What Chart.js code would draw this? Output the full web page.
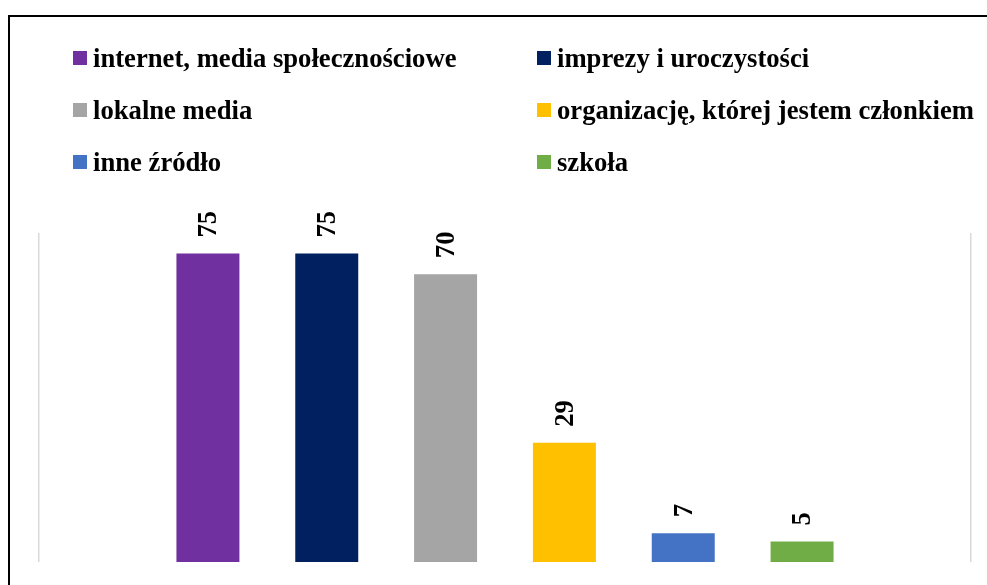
<!DOCTYPE html>
<html>
<head>
<meta charset="utf-8">
<script src="https://cdn.jsdelivr.net/npm/chart.js@4"></script>
<style>
    html, body {
        margin: 0;
        padding: 0;
        width: 987px;
        height: 585px;
        overflow: hidden;
        background: #fff;
    }
    .frame {
        position: absolute;
        left: 8px;
        top: 15px;
        width: 1100px;
        height: 700px;
        border: 2px solid #000;
    }
    #chartWrap {
        position: absolute;
        left: 0;
        top: 0;
        width: 987px;
        height: 585px;
    }
    .legend-item {
        position: absolute;
        font-family: "Liberation Serif", "Times New Roman", serif;
        font-weight: bold;
        font-size: 26.67px;
        color: #000;
        white-space: nowrap;
        line-height: 30px;
        height: 30px;
    }
    .legend-item span.box {
        position: absolute;
        left: 0;
        top: 8px;
        width: 14px;
        height: 14px;
    }
    .legend-item span.txt {
        position: absolute;
        left: 20px;
        top: 0;
    }
</style>
</head>
<body>
<div class="frame"></div>
<div id="chartWrap"><canvas id="barChart" width="987" height="585"></canvas></div>
<div id="legend"></div>
<script>
// Źródła informacji
const sources = [
    'internet, media społecznościowe',
    'imprezy i uroczystości',
    'lokalne media',
    'organizację, której jestem członkiem',
    'inne źródło',
    'szkoła'
];
const counts = [75, 75, 70, 29, 7, 5];
const colors = ['#7030A0', '#002060', '#A5A5A5', '#FFC000', '#4472C4', '#70AD47'];

const labelFont = 'bold 26.67px "Liberation Serif", "Times New Roman", serif';

// etykiety wartości obrócone o 90 stopni nad słupkami
const valueLabels = {
    id: 'valueLabels',
    afterDatasetsDraw(chart) {
        const ctx = chart.ctx;
        chart.data.datasets.forEach((ds, i) => {
            const meta = chart.getDatasetMeta(i);
            meta.data.forEach((bar, j) => {
                ctx.save();
                ctx.translate(bar.x + 1.5, bar.y - 16);
                ctx.rotate(-Math.PI / 2);
                ctx.font = labelFont;
                ctx.fillStyle = '#000';
                ctx.textAlign = 'left';
                ctx.textBaseline = 'middle';
                ctx.fillText(String(ds.data[j]), 0, 0);
                ctx.restore();
            });
        });
    }
};

const chart = new Chart(document.getElementById('barChart'), {
    type: 'bar',
    data: {
        labels: [''],
        datasets: sources.map((name, i) => ({
            label: name,
            data: [counts[i]],
            backgroundColor: colors[i],
            borderWidth: 0,
            categoryPercentage: 0.765,
            barPercentage: 0.53
        }))
    },
    options: {
        responsive: false,
        animation: false,
        layout: {
            padding: { left: 39, right: 16, top: 233, bottom: 23 }
        },
        plugins: {
            legend: { display: false },
            tooltip: { enabled: false }
        },
        scales: {
            x: {
                ticks: { display: false },
                border: { display: false },
                grid: {
                    color: '#D9D9D9',
                    lineWidth: 1.5,
                    drawTicks: false,
                    offset: true
                }
            },
            y: {
                display: false,
                min: 0,
                max: 80
            }
        }
    },
    plugins: [valueLabels]
});

// legenda w dwóch kolumnach (HTML)
function buildLegend() {
    const container = document.getElementById('legend');
    const colX = [73, 537];
    const rowY = [43, 95, 147];
    chart.data.datasets.forEach((ds, i) => {
        const item = document.createElement('div');
        item.className = 'legend-item';
        item.style.left = colX[i % 2] + 'px';
        item.style.top = rowY[Math.floor(i / 2)] + 'px';
        item.innerHTML = `<span class="box" style="background:${ds.backgroundColor}"></span><span class="txt">${ds.label}</span>`;
        container.appendChild(item);
    });
}

buildLegend();
</script>
</body>
</html>
